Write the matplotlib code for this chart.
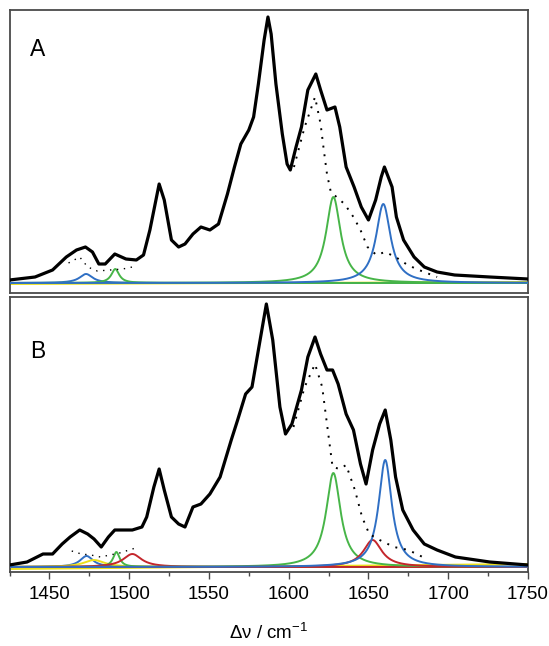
import numpy as np
import matplotlib
matplotlib.use("Agg")
import matplotlib.pyplot as plt

plt.rcParams['font.family'] = ['Liberation Sans', 'DejaVu Sans']
plt.rcParams['mathtext.fontset'] = 'custom'
plt.rcParams['mathtext.rm'] = 'Liberation Sans'
plt.rcParams['mathtext.it'] = 'Liberation Sans:italic'

wn_a = [1425, 1441, 1452, 1460.6, 1467, 1472.6, 1477, 1481, 1485, 1491, 1498, 1504.5,
        1509, 1513, 1518.8, 1522, 1526.5, 1531, 1535, 1540, 1545, 1550.6, 1556, 1561.6,
        1566, 1570, 1575, 1578, 1581, 1584.6, 1587, 1589, 1592, 1596, 1599, 1601,
        1604.6, 1608, 1612, 1617, 1620, 1624, 1629, 1632, 1636, 1641, 1645.5, 1650,
        1654.5, 1658, 1660, 1664.8, 1667.5, 1672, 1678.6, 1685, 1693, 1704, 1726, 1750]
int_a = [3, 6, 13, 26, 33, 36, 31, 19, 19, 29, 24, 23,
         28, 53, 99, 83, 43, 36, 39, 49, 56, 53, 59, 89,
         116, 139, 153, 166, 199, 243, 266, 249, 199, 149, 119, 113,
         136, 156, 193, 209, 193, 173, 176, 156, 116, 96, 76, 63,
         83, 106, 116, 96, 66, 43, 26, 16, 11, 8, 6, 4]

# dotted residual envelope, panel A
dot_wn_a = [1603.3, 1610, 1616.5, 1620, 1622, 1624, 1626.4, 1635, 1640.6, 1645, 1649.4,
            1655, 1660.4, 1667, 1673.6, 1680, 1693]
dot_int_a = [116, 156, 186, 159, 133, 109, 91, 79, 66, 53, 36, 28, 31, 26, 19, 14, 6]
dot_wn_a2 = [1462, 1469, 1474, 1480, 1496, 1502]
dot_int_a2 = [20, 26, 16, 12, 14, 16]

# fitted Lorentzian components, panel A: centre, height, half width
comp_a_colors = ['blue', 'green', 'green', 'blue']
comp_a_center = [1473, 1491.3, 1628, 1659.3]
comp_a_height = [9, 14, 86, 79]
comp_a_hwhm = [5, 3, 5.5, 5.5]
base_a_wn = [1425, 1750]
base_a_int = [-1, 1]

# ---------------- Panel B ----------------
wn_b = [1425, 1436, 1446, 1452, 1458, 1463, 1469, 1474, 1478, 1482.5, 1487, 1491, 1496,
        1502, 1508, 1511, 1515.5, 1518.8, 1522, 1526.5, 1531, 1535, 1540, 1545, 1550.6,
        1557, 1564, 1568, 1573, 1577, 1581, 1586, 1590, 1594.5, 1598, 1602, 1608, 1612,
        1616.5, 1620, 1624, 1627.5, 1631, 1636, 1640.6, 1645, 1648.5, 1652.6, 1657,
        1660.5, 1664, 1667, 1671.5, 1678, 1685, 1693, 1704.5, 1726, 1750]
int_b = [2, 5, 13, 13, 23, 30, 37, 33, 28, 20, 30, 37, 37,
         37, 40, 50, 80, 98, 77, 50, 43, 40, 60, 63, 73,
         90, 127, 147, 173, 180, 217, 263, 227, 160, 133, 143, 177, 210,
         230, 213, 197, 197, 183, 153, 137, 103, 83, 117, 143,
         157, 127, 90, 57, 37, 23, 17, 10, 5, 2]

dot_wn_b = [1603, 1610, 1616.5, 1621, 1624, 1627.5, 1632, 1636, 1641.5, 1646, 1650.5,
            1657, 1666, 1675, 1684]
dot_int_b = [140, 180, 203, 180, 143, 100, 98, 102, 77, 50, 33, 27, 20, 17, 10]
dot_wn_b2 = [1464, 1470, 1476, 1482, 1494, 1506]
dot_int_b2 = [16, 13, 12, 10, 14, 20]

comp_b_colors = ['blue', 'yellow', 'green', 'red', 'green', 'red', 'blue']
comp_b_center = [1473.3, 1478, 1492, 1502, 1628, 1652.6, 1660.5]
comp_b_height = [11, 7, 15, 13, 94, 27, 107]
comp_b_hwhm = [5, 8, 2.5, 7, 5.5, 7, 5]
base_b_wn = [1425, 1750]
base_b_int = [-2, 3]

xticks = [1450, 1500, 1550, 1600, 1650, 1700, 1750]
xlabel = 'Δν / cm$^{-1}$'

palette = {'blue': '#2f6fc4', 'green': '#47b548', 'red': '#c4262c', 'yellow': '#ece01c'}

W, H = 549, 646
fig = plt.figure(figsize=(W / 100, H / 100), dpi=100)
x0, x1 = 9.5 / W, 528 / W
axA = fig.add_axes([x0, 1 - 293 / H, x1 - x0, (293 - 10) / H])
axB = fig.add_axes([x0, 1 - 572 / H, x1 - x0, (572 - 297) / H])

grid = np.linspace(1425, 1750, 1301)


def lorentz(c, h, w):
    return h / (1 + ((grid - c) / w) ** 2)


def draw(ax, wn, inten, dwn, dint, dwn2, dint2, cols, cen, hei, hw, bwn, bint, ylim, label, ly):
    ax.plot(bwn, bint, color=palette['yellow'], lw=1.4, zorder=2)
    for col, c, h, w in zip(cols, cen, hei, hw):
        ax.plot(grid, lorentz(c, h, w), color=palette[col], lw=1.4, zorder=3)
    ax.plot(dwn, dint, color='black', lw=1.4, ls=(0, (1, 3.5)), zorder=4)
    ax.plot(dwn2, dint2, color='black', lw=1.0, ls=(0, (1, 4)), zorder=4)
    ax.plot(wn, inten, color='black', lw=2.3, zorder=5, solid_joinstyle='round')
    ax.set_xlim(1425, 1750)
    ax.set_ylim(*ylim)
    ax.set_yticks([])
    for s in ax.spines.values():
        s.set_color('#4a4a4a')
        s.set_linewidth(1.3)
    ax.text(0.055, ly, label, transform=ax.transAxes, fontsize=16.5,
            ha='center', va='center', color='black')


draw(axA, wn_a, int_a, dot_wn_a, dot_int_a, dot_wn_a2, dot_int_a2,
     comp_a_colors, comp_a_center, comp_a_height, comp_a_hwhm,
     base_a_wn, base_a_int, (-10, 273), 'A', 0.86)
draw(axB, wn_b, int_b, dot_wn_b, dot_int_b, dot_wn_b2, dot_int_b2,
     comp_b_colors, comp_b_center, comp_b_height, comp_b_hwhm,
     base_b_wn, base_b_int, (-5, 270), 'B', 0.8)

axA.set_xticks([])
axB.set_xticks(xticks)
axB.set_xticks(np.arange(1425, 1751, 25), minor=True)
axB.tick_params(axis='x', which='major', direction='out', length=5, width=1,
                color='#4a4a4a', labelsize=13.5, pad=5)
axB.tick_params(axis='x', which='minor', direction='out', length=3, width=1,
                color='#4a4a4a')
fig.text((x0 + x1) / 2, 1 - 633 / H, xlabel, fontsize=13.5, ha='center', va='center')

fig.savefig('out.png', dpi=100)
